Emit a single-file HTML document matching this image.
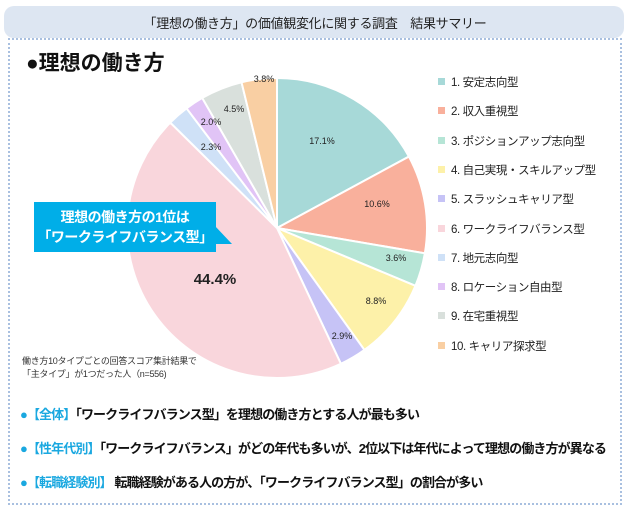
<!DOCTYPE html>
<html><head><meta charset="utf-8"><style>
body{margin:0;width:630px;height:507px;background:#fff;font-family:"Liberation Sans","Noto Sans CJK JP",sans-serif;position:relative;overflow:hidden}
.t{position:absolute;white-space:nowrap}
</style></head><body>
<div style="position:absolute;left:4px;top:6px;width:620px;height:32px;background:#dde6f2;border-radius:10px"></div>
<div class="t" style="left:0;width:630px;top:13px;text-align:center;font-size:13px;color:#222;letter-spacing:-0.3px">「理想の働き方」の価値観変化に関する調査　結果サマリー</div>
<div style="position:absolute;left:8px;top:38px;width:610px;height:463px;border:2px dotted #a9c0e0"></div>
<div class="t" style="left:26px;top:47px;font-size:21px;font-weight:bold;color:#111">●理想の働き方</div>
<svg id="pie" width="630" height="507" style="position:absolute;left:0;top:0"></svg>
<div style="position:absolute;left:34px;top:202px;width:182px;height:50px;background:#00aee8"></div>
<svg width="630" height="507" style="position:absolute;left:0;top:0"><polygon points="215,226 232,244 215,244" fill="#00aee8"/></svg>
<div class="t" style="left:34px;width:182px;top:207px;text-align:center;color:#fff;font-weight:bold;font-size:14px;line-height:20px;letter-spacing:-0.5px">理想の働き方の1位は<br>「ワークライフバランス型」</div>
<div class="t" style="left:22px;top:355px;font-size:9px;color:#333;line-height:13px;letter-spacing:-0.3px">働き方10タイプごとの回答スコア集計結果で<br>「主タイプ」が1つだった人（n=556)</div>
<div id="leg"></div>
<div class="t" style="left:20px;top:398px;font-size:13px;font-weight:bold;color:#111;line-height:34px;letter-spacing:-0.9px"><span style="color:#1aa8e0">●【全体】</span>「ワークライフバランス型」を理想の働き方とする人が最も多い<br><span style="color:#1aa8e0">●【性年代別】</span>「ワークライフバランス」がどの年代も多いが、2位以下は年代によって理想の働き方が異なる<br><span style="color:#1aa8e0">●【転職経験別】</span> 転職経験がある人の方が、「ワークライフバランス型」の割合が多い</div>
<script>
var v=[17.1,10.6,3.6,8.8,2.9,44.4,2.3,2.0,4.5,3.8];
var c=["#a7d9d8","#f9b09c","#b6e5d6","#fdf1a9","#c6c3f6","#f9d6dc","#cfe1f7","#e1c4f6","#d9e0dc","#f9cfa3"];
var names=["1. 安定志向型","2. 収入重視型","3. ポジションアップ志向型","4. 自己実現・スキルアップ型","5. スラッシュキャリア型","6. ワークライフバランス型","7. 地元志向型","8. ロケーション自由型","9. 在宅重視型","10. キャリア探求型"];
var lp=[[322,141],[377,204],[396,258],[376,301],[342,336],[215,278],[211,147],[211,122],[234,109],[264,79]];
var cx=277,cy=228,r=150,a=0,s="";
for(var i=0;i<10;i++){var a2=a+v[i]/100*2*Math.PI;
var x1=cx+r*Math.sin(a),y1=cy-r*Math.cos(a),x2=cx+r*Math.sin(a2),y2=cy-r*Math.cos(a2);
s+='<path d="M'+cx+','+cy+' L'+x1+','+y1+' A'+r+','+r+' 0 '+(a2-a>Math.PI?1:0)+' 1 '+x2+','+y2+' Z" fill="'+c[i]+'" stroke="#fff" stroke-width="2"/>';a=a2;}
for(i=0;i<10;i++){var big=i==5;s+='<text x="'+lp[i][0]+'" y="'+(lp[i][1]+(big?6:3))+'" text-anchor="middle" font-size="'+(big?15:9)+'" '+(big?'font-weight="bold"':'')+' fill="#222" font-family="Liberation Sans,sans-serif">'+v[i].toFixed(1)+'%</text>';}
document.getElementById('pie').innerHTML=s;
var h="";for(i=0;i<10;i++){var y=82+i*29.3;h+='<div style="position:absolute;left:438px;top:'+(y-4)+'px;width:7px;height:7px;background:'+c[i]+'"></div><div class="t" style="left:451px;top:'+(y-8)+'px;font-size:11.5px;color:#222;letter-spacing:-0.4px">'+names[i]+'</div>';}
document.getElementById('leg').innerHTML=h;
</script>
</body></html>
